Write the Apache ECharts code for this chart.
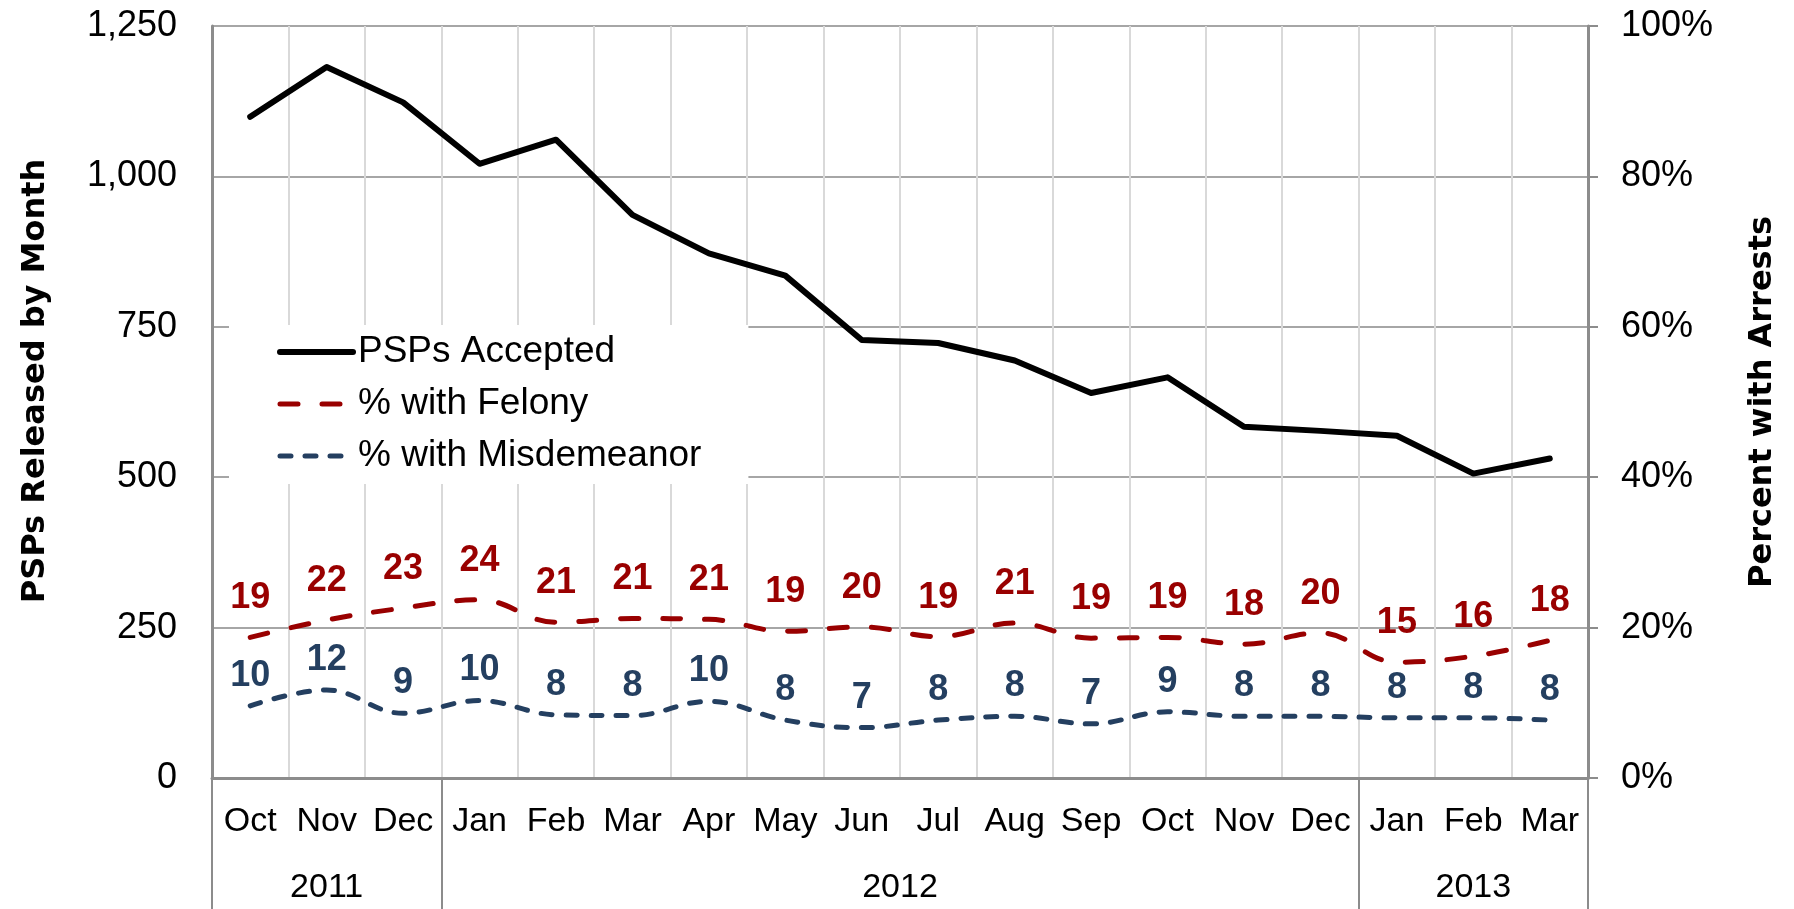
<!DOCTYPE html>
<html>
<head>
<meta charset="utf-8">
<script src="https://cdn.jsdelivr.net/npm/echarts@6/dist/echarts.min.js"></script>
<style>
  html, body { margin: 0; padding: 0; background: #fff; }
  #chart { width: 1794px; height: 909px; }
</style>
</head>
<body>
<div id="chart"></div>
<script>
// data
var months = ['Oct', 'Nov', 'Dec', 'Jan', 'Feb', 'Mar', 'Apr', 'May', 'Jun',
              'Jul', 'Aug', 'Sep', 'Oct', 'Nov', 'Dec', 'Jan', 'Feb', 'Mar'];
var years = ['2011', '2012', '2013'];
var yearMonths = [3, 12, 3];

var pspAccepted = [1099, 1182, 1123, 1021, 1061, 936, 872, 835, 728,
                   723, 694, 640, 666, 584, 577, 569, 506, 531];
// plotted position of the lines (percent)
var felonyPct = [18.7, 21.0, 22.6, 23.7, 20.7, 21.2, 21.1, 19.5, 20.1,
                 18.8, 20.6, 18.6, 18.7, 17.8, 19.3, 15.4, 16.2, 18.3];
var misdPct = [9.6, 11.7, 8.6, 10.3, 8.4, 8.3, 10.2, 7.7, 6.7,
               7.7, 8.2, 7.2, 8.8, 8.2, 8.2, 8.0, 8.0, 7.7];
// numbers printed above the lines
var felonyLabels = [19, 22, 23, 24, 21, 21, 21, 19, 20, 19, 21, 19, 19, 18, 20, 15, 16, 18];
var misdLabels = [10, 12, 9, 10, 8, 8, 10, 8, 7, 8, 8, 7, 9, 8, 8, 8, 8, 8];

var leftTicks = [0, 250, 500, 750, 1000, 1250];

// year group boundaries and centres on the second axis
var yearBounds = [0];
var yearCenters = [];
yearMonths.forEach(function (n, i) {
    yearCenters.push(yearBounds[i] + n / 2);
    yearBounds.push(yearBounds[i] + n);
});

var FONT = 'Liberation Sans, Arial, sans-serif';
var TITLE_FONT = 'DejaVu Sans, Verdana, sans-serif';
var RED = '#990000';
var NAVY = '#243f60';

var myChart = echarts.init(document.getElementById('chart'));

var option = {
    animation: false,
    backgroundColor: '#fff',
    grid: { left: 212, right: 206, top: 26, bottom: 131, containLabel: false },
    legend: {
        orient: 'vertical',
        left: 229,
        top: 325,
        padding: [7, 47, 8, 48],
        backgroundColor: '#fff',
        itemWidth: 73,
        itemHeight: 14,
        itemGap: 12,
        itemStyle: { opacity: 0 },
        lineStyle: { width: 'inherit' },
        textStyle: { fontFamily: FONT, fontSize: 37, color: '#000', lineHeight: 40 },
        data: ['PSPs Accepted', '% with Felony', '% with Misdemeanor']
    },
    xAxis: [
        {
            type: 'category',
            data: months,
            position: 'bottom',
            boundaryGap: true,
            axisLine: { lineStyle: { color: '#8c8c8c', width: 3 } },
            axisTick: { show: false },
            axisLabel: { interval: 0, margin: 27, fontFamily: FONT, fontSize: 34, color: '#000' },
            splitLine: { show: true, interval: 0, lineStyle: { color: '#d9d9d9', width: 2 } }
        },
        {
            type: 'value',
            position: 'bottom',
            offset: 0,
            min: 0,
            max: months.length,
            axisLine: { show: false },
            splitLine: { show: false },
            axisTick: {
                show: true,
                inside: false,
                length: 132,
                customValues: yearBounds,
                lineStyle: { color: '#8c8c8c', width: 2 }
            },
            axisLabel: {
                customValues: yearCenters,
                margin: 93,
                fontFamily: FONT,
                fontSize: 34,
                color: '#000',
                formatter: function (v) {
                    var i = yearCenters.indexOf(v);
                    return i >= 0 ? years[i] : '';
                }
            }
        }
    ],
    yAxis: [
        {
            type: 'value',
            min: leftTicks[0],
            max: leftTicks[leftTicks.length - 1],
            interval: leftTicks[1] - leftTicks[0],
            name: 'PSPs Released by Month',
            nameLocation: 'middle',
            nameRotate: 90,
            nameGap: 160,
            nameTextStyle: {
                fontFamily: TITLE_FONT, fontSize: 32, fontWeight: 'bold', color: '#000',
                padding: [0, 0, 0, 42]
            },
            axisLine: { show: true, lineStyle: { color: '#8c8c8c', width: 3 } },
            axisTick: { show: false },
            axisLabel: {
                margin: 35, fontFamily: FONT, fontSize: 36, color: '#000',
                formatter: function (v) { return v.toLocaleString('en-US'); }
            },
            splitLine: { show: true, lineStyle: { color: '#a6a6a6', width: 2 } }
        },
        {
            type: 'value',
            min: 0,
            max: 100,
            interval: 20,
            position: 'right',
            name: 'Percent with Arrests',
            nameLocation: 'middle',
            nameRotate: 90,
            nameGap: 159,
            nameTextStyle: { fontFamily: TITLE_FONT, fontSize: 32, fontWeight: 'bold', color: '#000' },
            axisLine: { show: true, lineStyle: { color: '#8c8c8c', width: 3 } },
            axisTick: { show: true, inside: false, length: 10, lineStyle: { color: '#8c8c8c', width: 2 } },
            axisLabel: { margin: 33, fontFamily: FONT, fontSize: 36, color: '#000', formatter: '{value}%' },
            splitLine: { show: false }
        }
    ],
    series: [
        {
            name: 'PSPs Accepted',
            type: 'line',
            xAxisIndex: 0,
            yAxisIndex: 0,
            data: pspAccepted,
            symbol: 'circle',
            symbolSize: 0,
            itemStyle: { color: '#000' },
            lineStyle: { color: '#000', width: 6, cap: 'round', join: 'round' },
            z: 3
        },
        {
            name: '% with Felony',
            type: 'line',
            xAxisIndex: 0,
            yAxisIndex: 1,
            data: felonyPct,
            smooth: 0.4,
            symbol: 'circle',
            symbolSize: 0,
            itemStyle: { color: RED },
            lineStyle: { color: RED, width: 5, type: [18, 24], cap: 'round' },
            label: {
                show: true,
                position: 'top',
                distance: 21,
                fontFamily: FONT,
                fontSize: 36,
                fontWeight: 'bold',
                color: RED,
                formatter: function (p) { return felonyLabels[p.dataIndex]; }
            }
        },
        {
            name: '% with Misdemeanor',
            type: 'line',
            xAxisIndex: 0,
            yAxisIndex: 1,
            data: misdPct,
            smooth: 0.4,
            symbol: 'circle',
            symbolSize: 0,
            itemStyle: { color: NAVY },
            lineStyle: { color: NAVY, width: 5, type: [11, 14], cap: 'round' },
            label: {
                show: true,
                position: 'top',
                distance: 12,
                fontFamily: FONT,
                fontSize: 36,
                fontWeight: 'bold',
                color: NAVY,
                formatter: function (p) { return misdLabels[p.dataIndex]; }
            }
        }
    ]
};

myChart.setOption(option);
</script>
</body>
</html>
